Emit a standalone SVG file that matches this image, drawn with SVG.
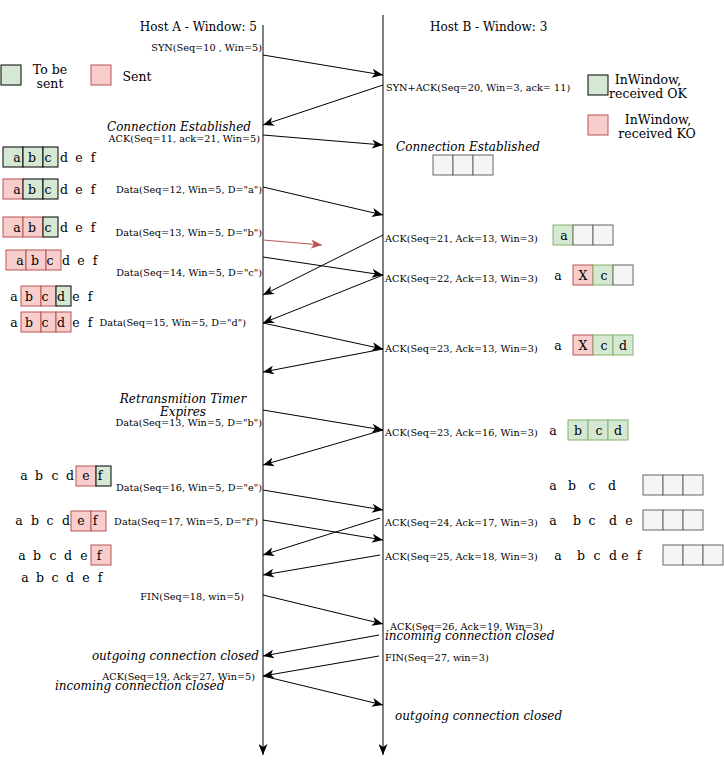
<svg xmlns="http://www.w3.org/2000/svg" width="724" height="764" viewBox="0 0 724 764">
<style>
text{font-family:"DejaVu Serif","Liberation Serif",serif;fill:#000}
.h{font-size:12px}
.l{font-size:9.7px}
.r{text-anchor:end}
.m{text-anchor:middle}
.i{font-size:12px;font-style:italic}
.c{font-size:12.5px;text-anchor:middle}
.g{fill:#d5e8d4;stroke:#82b366}
.gd{fill:#d5e8d4;stroke:#000}
.p{fill:#f8cecc;stroke:#b85450}
.e{fill:#f5f5f5;stroke:#666}
.ln{stroke:#000;stroke-width:1;fill:none}
</style>
<defs>
<marker id="ah" markerUnits="userSpaceOnUse" markerWidth="12" markerHeight="9" refX="11" refY="4.5" orient="auto">
<path d="M0,0 L11,4.5 L0,9 L3,4.5 z" fill="#000"/>
</marker>
<marker id="ahr" markerUnits="userSpaceOnUse" markerWidth="12" markerHeight="9" refX="11" refY="4.5" orient="auto">
<path d="M0,0 L11,4.5 L0,9 L3,4.5 z" fill="#b85450"/>
</marker>
</defs>
<rect width="724" height="764" fill="#fff"/>

<g id="hostA">
<text class="h r" x="257" y="31">Host A - Window: 5</text>
<line class="ln" x1="263" y1="25" x2="263" y2="755" marker-end="url(#ah)"/>
</g>
<g id="hostB">
<text class="h" x="430" y="31">Host B - Window: 3</text>
<line class="ln" x1="383" y1="15" x2="383" y2="755" marker-end="url(#ah)"/>
</g>

<g id="legend">
<rect class="gd" x="1" y="65" width="20" height="20"/>
<text class="c" x="50" y="74">To be</text>
<text class="c" x="50" y="88">sent</text>
<rect class="p" x="91" y="65" width="20" height="20"/>
<text class="c" x="137" y="81">Sent</text>
<rect class="gd" x="588" y="75" width="20" height="20"/>
<text class="c" x="648" y="84">InWindow,</text>
<text class="c" x="648" y="98">received OK</text>
<rect class="p" x="588" y="115" width="20" height="20"/>
<text class="c" x="658" y="124">InWindow,</text>
<text class="c" x="657" y="138">received KO</text>
</g>

<g id="notes">
<text class="i r" x="251" y="131">Connection Established</text>
<text class="i m" x="468" y="151">Connection Established</text>
<text class="i m" x="183" y="403">Retransmition Timer</text>
<text class="i m" x="183" y="416">Expires</text>
<text class="i r" x="259" y="660">outgoing connection closed</text>
<text class="i" x="55" y="690">incoming connection closed</text>
<text class="i" x="385" y="640">incoming connection closed</text>
<text class="i" x="395" y="720">outgoing connection closed</text>
</g>

<g id="connectors">
<line class="ln" x1="263" y1="55" x2="383" y2="75" marker-end="url(#ah)"/>
<line class="ln" x1="383" y1="85" x2="263" y2="125" marker-end="url(#ah)"/>
<line class="ln" x1="263" y1="135" x2="383" y2="145" marker-end="url(#ah)"/>
<line class="ln" x1="263" y1="187" x2="383" y2="215" marker-end="url(#ah)"/>
<line x1="263" y1="240" x2="322" y2="245" stroke="#b85450" stroke-width="1" marker-end="url(#ahr)"/>
<line class="ln" x1="383" y1="235" x2="263" y2="295" marker-end="url(#ah)"/>
<line class="ln" x1="263" y1="257" x2="383" y2="275" marker-end="url(#ah)"/>
<line class="ln" x1="383" y1="275" x2="263" y2="323" marker-end="url(#ah)"/>
<line class="ln" x1="263" y1="323" x2="383" y2="349" marker-end="url(#ah)"/>
<line class="ln" x1="383" y1="349" x2="263" y2="372" marker-end="url(#ah)"/>
<line class="ln" x1="263" y1="410" x2="383" y2="430" marker-end="url(#ah)"/>
<line class="ln" x1="383" y1="430" x2="263" y2="465" marker-end="url(#ah)"/>
<line class="ln" x1="263" y1="490" x2="383" y2="510" marker-end="url(#ah)"/>
<line class="ln" x1="263" y1="520" x2="383" y2="540" marker-end="url(#ah)"/>
<line class="ln" x1="380" y1="518" x2="263" y2="555" marker-end="url(#ah)"/>
<line class="ln" x1="380" y1="555" x2="263" y2="575" marker-end="url(#ah)"/>
<line class="ln" x1="263" y1="595" x2="383" y2="624" marker-end="url(#ah)"/>
<line class="ln" x1="379" y1="635" x2="263" y2="656" marker-end="url(#ah)"/>
<line class="ln" x1="379" y1="656" x2="263" y2="676" marker-end="url(#ah)"/>
<line class="ln" x1="263" y1="676" x2="383" y2="705" marker-end="url(#ah)"/>
</g>

<g id="labels">
<text class="l r" x="262" y="50.5">SYN(Seq=10 , Win=5)</text>
<text class="l" x="386" y="90.5">SYN+ACK(Seq=20, Win=3, ack= 11)</text>
<text class="l r" x="260" y="141.5">ACK(Seq=11, ack=21, Win=5)</text>
<text class="l r" x="262" y="193">Data(Seq=12, Win=5, D="a")</text>
<text class="l r" x="262" y="236">Data(Seq=13, Win=5, D="b")</text>
<text class="l" x="385" y="241.5">ACK(Seq=21, Ack=13, Win=3)</text>
<text class="l r" x="262" y="276">Data(Seq=14, Win=5, D="c")</text>
<text class="l" x="385" y="281.5">ACK(Seq=22, Ack=13, Win=3)</text>
<text class="l r" x="246" y="326">Data(Seq=15, Win=5, D="d")</text>
<text class="l" x="385" y="351.5">ACK(Seq=23, Ack=13, Win=3)</text>
<text class="l r" x="262" y="426">Data(Seq=13, Win=5, D="b")</text>
<text class="l" x="385" y="435.5">ACK(Seq=23, Ack=16, Win=3)</text>
<text class="l r" x="262" y="491">Data(Seq=16, Win=5, D="e")</text>
<text class="l r" x="258" y="525">Data(Seq=17, Win=5, D="f")</text>
<text class="l" x="385" y="525.5">ACK(Seq=24, Ack=17, Win=3)</text>
<text class="l" x="385" y="559.5">ACK(Seq=25, Ack=18, Win=3)</text>
<text class="l r" x="244" y="600">FIN(Seq=18, win=5)</text>
<text class="l" x="390" y="629.5">ACK(Seq=26, Ack=19, Win=3)</text>
<text class="l" x="385" y="660.5">FIN(Seq=27, win=3)</text>
<text class="l r" x="255" y="680">ACK(Seq=19, Ack=27, Win=5)</text>
</g>

<g id="windowA1">
<rect class="gd" x="3" y="147" width="20" height="20"/><rect class="gd" x="23" y="147" width="20" height="20"/><rect class="gd" x="43" y="147" width="15" height="20"/>
<text class="c" x="17" y="161.5">a</text><text class="c" x="32" y="161.5">b</text><text class="c" x="48" y="161.5">c</text><text class="c" x="64" y="161.5">d</text><text class="c" x="79" y="161.5">e</text><text class="c" x="93" y="161.5">f</text>
</g>
<g id="windowA2">
<rect class="p" x="3" y="179" width="20" height="20"/><rect class="gd" x="23" y="179" width="20" height="20"/><rect class="gd" x="43" y="179" width="15" height="20"/>
<text class="c" x="17" y="193.5">a</text><text class="c" x="32" y="193.5">b</text><text class="c" x="48" y="193.5">c</text><text class="c" x="64" y="193.5">d</text><text class="c" x="79" y="193.5">e</text><text class="c" x="93" y="193.5">f</text>
</g>
<g id="windowA3">
<rect class="p" x="3" y="217" width="20" height="20"/><rect class="p" x="23" y="217" width="20" height="20"/><rect class="gd" x="43" y="217" width="15" height="20"/>
<text class="c" x="17" y="231.5">a</text><text class="c" x="32" y="231.5">b</text><text class="c" x="48" y="231.5">c</text><text class="c" x="64" y="231.5">d</text><text class="c" x="79" y="231.5">e</text><text class="c" x="93" y="231.5">f</text>
</g>
<g id="windowA4">
<rect class="p" x="6" y="250" width="20" height="20"/><rect class="p" x="26" y="250" width="20" height="20"/><rect class="p" x="46" y="250" width="15" height="20"/>
<text class="c" x="20" y="264.5">a</text><text class="c" x="35" y="264.5">b</text><text class="c" x="50" y="264.5">c</text><text class="c" x="66" y="264.5">d</text><text class="c" x="81" y="264.5">e</text><text class="c" x="95" y="264.5">f</text>
</g>
<g id="windowA5">
<rect class="p" x="21" y="286" width="20" height="20"/><rect class="p" x="41" y="286" width="15" height="20"/><rect class="gd" x="56" y="286" width="15" height="20"/>
<text class="c" x="14" y="300.5">a</text><text class="c" x="29" y="300.5">b</text><text class="c" x="45" y="300.5">c</text><text class="c" x="61" y="300.5">d</text><text class="c" x="76" y="300.5">e</text><text class="c" x="90" y="300.5">f</text>
</g>
<g id="windowA6">
<rect class="p" x="21" y="312" width="20" height="20"/><rect class="p" x="41" y="312" width="15" height="20"/><rect class="p" x="56" y="312" width="15" height="20"/>
<text class="c" x="14" y="326.5">a</text><text class="c" x="29" y="326.5">b</text><text class="c" x="45" y="326.5">c</text><text class="c" x="61" y="326.5">d</text><text class="c" x="76" y="326.5">e</text><text class="c" x="90" y="326.5">f</text>
</g>
<g id="windowA7">
<rect class="p" x="76" y="466" width="20" height="20"/><rect class="gd" x="96" y="466" width="15" height="20"/>
<text class="c" x="24" y="480">a</text><text class="c" x="39" y="480">b</text><text class="c" x="55" y="480">c</text><text class="c" x="70" y="480">d</text><text class="c" x="86" y="480">e</text><text class="c" x="100" y="480">f</text>
</g>
<g id="windowA8">
<rect class="p" x="71" y="511" width="20" height="20"/><rect class="p" x="91" y="511" width="15" height="20"/>
<text class="c" x="19" y="525">a</text><text class="c" x="35" y="525">b</text><text class="c" x="50" y="525">c</text><text class="c" x="66" y="525">d</text><text class="c" x="81" y="525">e</text><text class="c" x="95" y="525">f</text>
</g>
<g id="windowA9">
<rect class="p" x="91" y="545" width="20" height="20"/>
<text class="c" x="22" y="559.5">a</text><text class="c" x="37" y="559.5">b</text><text class="c" x="53" y="559.5">c</text><text class="c" x="68" y="559.5">d</text><text class="c" x="84" y="559.5">e</text><text class="c" x="99" y="559.5">f</text>
</g>
<g id="windowA10">
<text class="c" x="25" y="581.5">a</text><text class="c" x="40" y="581.5">b</text><text class="c" x="55" y="581.5">c</text><text class="c" x="70" y="581.5">d</text><text class="c" x="86" y="581.5">e</text><text class="c" x="100" y="581.5">f</text>
</g>

<g id="windowB0">
<rect class="e" x="433" y="155" width="20" height="20"/><rect class="e" x="453" y="155" width="20" height="20"/><rect class="e" x="473" y="155" width="20" height="20"/>
</g>
<g id="windowB1">
<rect class="g" x="553" y="225" width="20" height="20"/><rect class="e" x="573" y="225" width="20" height="20"/><rect class="e" x="593" y="225" width="20" height="20"/>
<text class="c" x="564" y="239.5">a</text>
</g>
<g id="windowB2">
<rect class="p" x="573" y="265" width="20" height="20"/><rect class="g" x="593" y="265" width="20" height="20"/><rect class="e" x="613" y="265" width="20" height="20"/>
<text class="c" x="558" y="279.5">a</text><text class="c" x="583" y="279.5">X</text><text class="c" x="604" y="279.5">c</text>
</g>
<g id="windowB3">
<rect class="p" x="573" y="335" width="20" height="20"/><rect class="g" x="593" y="335" width="20" height="20"/><rect class="g" x="613" y="335" width="20" height="20"/>
<text class="c" x="558" y="349.5">a</text><text class="c" x="583" y="349.5">X</text><text class="c" x="604" y="349.5">c</text><text class="c" x="623" y="349.5">d</text>
</g>
<g id="windowB4">
<rect class="g" x="568" y="420" width="20" height="20"/><rect class="g" x="588" y="420" width="20" height="20"/><rect class="g" x="608" y="420" width="20" height="20"/>
<text class="c" x="553" y="434.5">a</text><text class="c" x="578" y="434.5">b</text><text class="c" x="599" y="434.5">c</text><text class="c" x="618" y="434.5">d</text>
</g>
<g id="windowB5">
<rect class="e" x="643" y="475" width="20" height="20"/><rect class="e" x="663" y="475" width="20" height="20"/><rect class="e" x="683" y="475" width="20" height="20"/>
<text class="c" x="553" y="489.5">a</text><text class="c" x="572" y="489.5">b</text><text class="c" x="592" y="489.5">c</text><text class="c" x="612" y="489.5">d</text>
</g>
<g id="windowB6">
<rect class="e" x="643" y="510" width="20" height="20"/><rect class="e" x="663" y="510" width="20" height="20"/><rect class="e" x="683" y="510" width="20" height="20"/>
<text class="c" x="553" y="524.5">a</text><text class="c" x="577" y="524.5">b</text><text class="c" x="592" y="524.5">c</text><text class="c" x="613" y="524.5">d</text><text class="c" x="629" y="524.5">e</text>
</g>
<g id="windowB7">
<rect class="e" x="663" y="545" width="20" height="20"/><rect class="e" x="683" y="545" width="20" height="20"/><rect class="e" x="703" y="545" width="20" height="20"/>
<text class="c" x="558" y="559.5">a</text><text class="c" x="581" y="559.5">b</text><text class="c" x="597" y="559.5">c</text><text class="c" x="613" y="559.5">d</text><text class="c" x="625" y="559.5">e</text><text class="c" x="639" y="559.5">f</text>
</g>
</svg>
